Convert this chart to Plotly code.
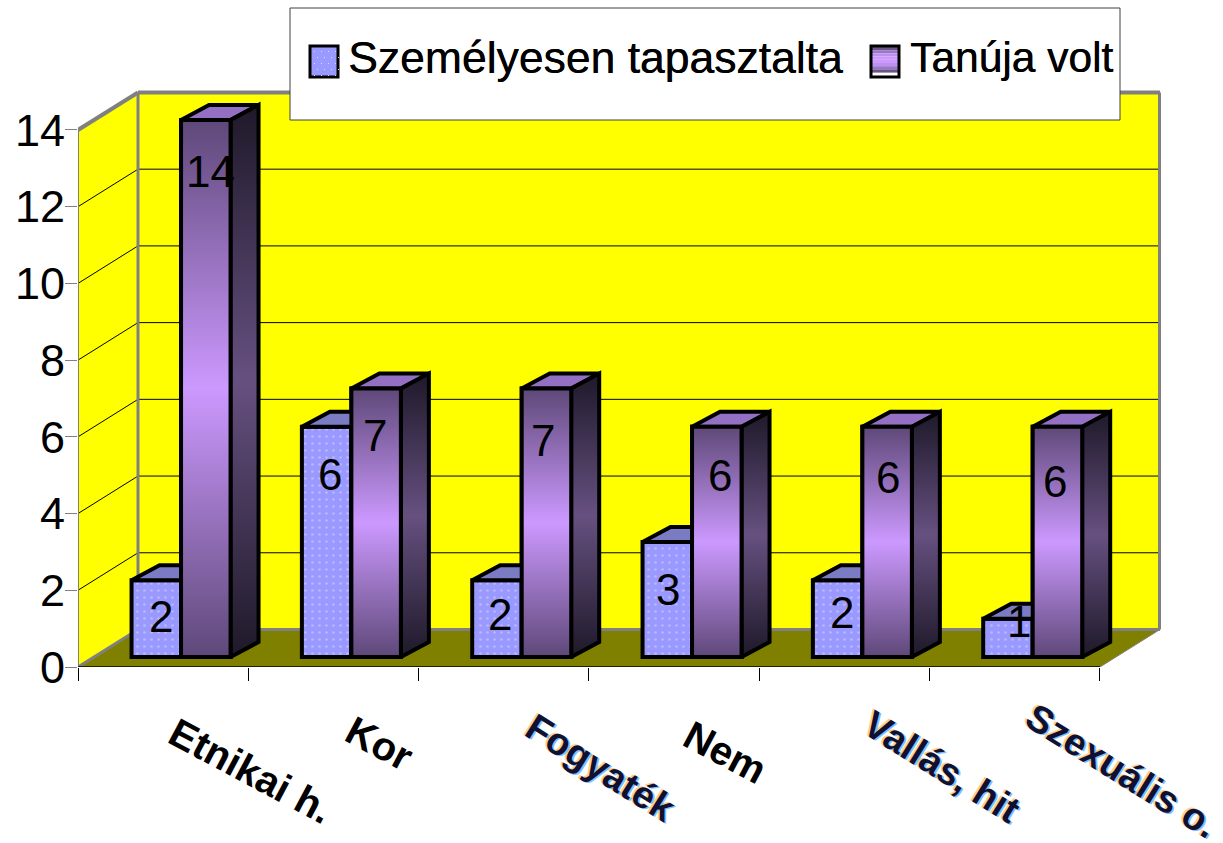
import plotly.graph_objects as go

# ---- data ----
categories = ["Etnikai h.", "Kor", "Fogyaték", "Nem", "Vallás, hit", "Szexuális o."]
series_a_name = "Személyesen tapasztalta"
series_b_name = "Tanúja volt"
series_a = [2, 6, 2, 3, 2, 1]
series_b = [14, 7, 7, 6, 6, 6]
y_ticks = [0, 2, 4, 6, 8, 10, 12, 14]

# ---- layout constants ----
W, H = 1223, 843
X0, Y0 = 78, 667              # pixel of the axes' origin
CAT_PX = 170.33               # pixels per category
UNIT_PX = 38.36               # pixels per y unit
WALL_DX = 60 / CAT_PX         # depth of the chart box, in axis units
WALL_DY = 37.5 / UNIT_PX
BAR_W = 49.5 / CAT_PX
BAR_DX = 28 / CAT_PX          # depth of a bar
BAR_DY = 15 / UNIT_PX
BAR_LIFT = 10 / UNIT_PX       # bars stand inside the floor
GROUP_AT = 0.605
N = len(categories)
YMAX = 14

x_hi = N + WALL_DX
y_hi = YMAX + WALL_DY

BLUE, BLUE_TOP, BLUE_DOT = "#9999FF", "#7B7BC4", "#D6D6FF"
PURPLE_TOP = "#9370C4"
FRONT_SCALE = [[0, "#5E4878"], [0.5, "#CC99FF"], [1, "#5E4878"]]
SIDE_SCALE = [[0, "#1E1929"], [0.5, "#665080"], [1, "#1E1929"]]
GREY = "#808080"
FONT = "Liberation Sans, Arial, sans-serif"
EDGE = 4

# pixel nudges of the value labels (dx, dy from the centre of each front face's top)
label_dy_a = [36, 48, 34, 48, 32, 3]
label_dy_b = [52, 47, 52, 49, 51, 55]
label_dx_a = [5, 3, 3, 1, 4, 11]
label_dx_b = [5, -1, -3, 3, 1, -2]
# pixel centres of the rotated category labels
cat_label_px = [(251, 771), (379, 743), (601, 768), (725, 752), (942, 767), (1122, 771)]
blurred = [False, False, True, False, True, True]


def px(x):
    return x / W


def py(y):
    return 1 - y / H


def poly(xs, ys, **kw):
    return go.Scatter(x=xs + xs[:1], y=ys + ys[:1], mode="lines", fill="toself",
                      line=dict(color="black", width=EDGE), hoverinfo="skip",
                      showlegend=False, **kw)


fig = go.Figure()

# front faces as true bars
pos = [i + GROUP_AT for i in range(N)]
fig.add_bar(x=pos, y=series_a, base=BAR_LIFT, width=BAR_W, offset=-BAR_W, name=series_a_name,
            marker=dict(color=BLUE, line=dict(color="black", width=EDGE),
                        pattern=dict(shape=".", fgcolor=BLUE_DOT, bgcolor=BLUE, size=7, solidity=0.12)),
            hoverinfo="skip")
fig.add_bar(x=pos, y=series_b, base=BAR_LIFT, width=BAR_W, offset=0, name=series_b_name,
            marker=dict(color="#8A6FB0", line=dict(color="black", width=EDGE)), hoverinfo="skip")

# 3-D faces derived from the values
for p, v in zip(pos, series_a):
    l, r, t = p - BAR_W, p, v + BAR_LIFT
    fig.add_trace(poly([l, r, r + BAR_DX, l + BAR_DX], [t, t, t + BAR_DY, t + BAR_DY], fillcolor=BLUE_TOP))
for p, v in zip(pos, series_b):
    l, r, t, b = p, p + BAR_W, v + BAR_LIFT, BAR_LIFT
    fig.add_trace(poly([l, r, r + BAR_DX, l + BAR_DX], [t, t, t + BAR_DY, t + BAR_DY], fillcolor=PURPLE_TOP))
    fig.add_trace(poly([r, r + BAR_DX, r + BAR_DX, r], [b, b + BAR_DY, t + BAR_DY, t],
                       fillgradient=dict(type="vertical", colorscale=SIDE_SCALE)))
    fig.add_trace(poly([l, r, r, l], [b, b, t, t],
                       fillgradient=dict(type="vertical", colorscale=FRONT_SCALE)))

# ---- chart box ----
shapes = []


def path(pts):
    return "M" + " L".join(f"{a},{b}" for a, b in pts) + " Z"


def data_shape(pts, fill, line=None, width=0, layer="below"):
    shapes.append(dict(type="path", xref="x", yref="y", path=path(pts), fillcolor=fill,
                       line=dict(color=line or fill, width=width), layer=layer))


def data_line(x0, y0, x1, y1, color="black", width=1, layer="below"):
    shapes.append(dict(type="line", xref="x", yref="y", x0=x0, y0=y0, x1=x1, y1=y1,
                       line=dict(color=color, width=width), layer=layer))


data_shape([(0, 0), (WALL_DX, WALL_DY), (WALL_DX, y_hi), (0, YMAX)], "#FFFF00")
data_shape([(WALL_DX, WALL_DY), (x_hi, WALL_DY), (x_hi, y_hi), (WALL_DX, y_hi)], "#FFFF00")
data_shape([(0, 0), (WALL_DX, WALL_DY), (x_hi, WALL_DY), (N, 0)], "#808000")
for t in y_ticks[1:-1]:
    data_line(0, t, WALL_DX, t + WALL_DY)
    data_line(WALL_DX, t + WALL_DY, x_hi, t + WALL_DY)
# grey frame
data_line(0, YMAX, WALL_DX, y_hi, GREY, 4)
data_line(WALL_DX, y_hi, x_hi, y_hi, GREY, 4)
data_line(x_hi, WALL_DY, x_hi, y_hi, GREY, 4)
data_line(WALL_DX, WALL_DY, WALL_DX, y_hi, GREY, 3)
data_line(WALL_DX, WALL_DY, x_hi, WALL_DY, GREY, 3)
data_line(0, 0, WALL_DX, WALL_DY, GREY, 3)
data_line(N, 0, x_hi, WALL_DY, GREY, 1)
# axis lines
data_line(0, 0, 0, YMAX, GREY, 2)
data_line(0, 0, N, 0, "black", 1.5)

# ---- hand-made legend box ----
shapes.append(dict(type="rect", xref="paper", yref="paper", x0=px(290), x1=px(1120), y0=py(120), y1=py(8),
                   fillcolor="white", line=dict(color="#404040", width=1), layer="above"))
shapes.append(dict(type="rect", xref="paper", yref="paper", x0=px(310), x1=px(338), y0=py(77), y1=py(46),
                   fillcolor=BLUE, line=dict(color="black", width=3), layer="above"))
for j in range(5):
    for i in range(4):
        sx, sy = 314 + i * 7 + (j % 2) * 3, 51 + j * 6
        shapes.append(dict(type="rect", xref="paper", yref="paper", x0=px(sx), x1=px(sx + 1),
                           y0=py(sy + 1), y1=py(sy), fillcolor=BLUE_DOT, line=dict(width=0), layer="above"))
bands = ["#6A5488", "#9A78C8", "#BE90F0", "#CC99FF", "#CC99FF", "#BE90F0", "#9A78C8", "#6A5488"]
for k, c in enumerate(bands):
    shapes.append(dict(type="rect", xref="paper", yref="paper", x0=px(872), x1=px(899),
                       y0=py(47 + (k + 1) * 3.2), y1=py(47 + k * 3.2), fillcolor=c, line=dict(width=0), layer="above"))
shapes.append(dict(type="rect", xref="paper", yref="paper", x0=px(871), x1=px(899), y0=py(77), y1=py(46),
                   fillcolor="rgba(0,0,0,0)", line=dict(color="black", width=3), layer="above"))

# ---- text ----
ann = []
for name, x, size in ((series_a_name, 346, 44.5), (series_b_name, 908, 42.5)):
    ann.append(dict(text=name, xref="paper", yref="paper", x=px(x), y=py(57), xanchor="left", yanchor="middle",
                    showarrow=False, font=dict(size=size, family=FONT, color="black", shadow="0.4px 0 #000")))
for vals, shift, dxs, dys in ((series_a, -BAR_W / 2, label_dx_a, label_dy_a), (series_b, BAR_W / 2, label_dx_b, label_dy_b)):
    for p, v, dx, dy in zip(pos, vals, dxs, dys):
        ann.append(dict(text=str(v), x=p + shift, y=v + BAR_LIFT, xref="x", yref="y", xshift=dx, yshift=-dy,
                        xanchor="center", yanchor="middle", showarrow=False,
                        font=dict(size=44, family=FONT, color="black")))
for c, (lx, ly), soft in zip(categories, cat_label_px, blurred):
    f = dict(size=40, family=FONT, color="black", weight="bold")
    angle = 28
    if soft:
        f = dict(size=38, family=FONT, color="#101030", weight="bold",
                 shadow="2px 0 #7FBFFF, -2px 0 #FFD08A")
        angle = 32
    ann.append(dict(text=c, xref="paper", yref="paper", x=px(lx), y=py(ly), xanchor="center", yanchor="middle",
                    textangle=angle, showarrow=False, font=f))

fig.update_layout(
    width=W, height=H, margin=dict(l=0, r=0, t=0, b=0), paper_bgcolor="white", plot_bgcolor="white",
    showlegend=False, barmode="overlay", shapes=shapes, annotations=ann,
    xaxis=dict(domain=[px(X0), px(1161)], range=[0, (1161 - X0) / CAT_PX], tickvals=list(range(N + 1)),
               ticktext=[""] * (N + 1), ticks="outside", ticklen=13, tickcolor="black", tickwidth=1,
               showgrid=False, zeroline=False, showline=False, automargin=False),
    yaxis=dict(domain=[py(Y0), py(90)], range=[0, (Y0 - 90) / UNIT_PX], tickvals=y_ticks, ticks="outside",
               ticklen=12, tickcolor=GREY, tickwidth=1, showgrid=False, zeroline=False, showline=False,
               automargin=False, ticklabelstandoff=-9, tickfont=dict(size=45, family=FONT, color="black")),
)

fig.write_html("out.html", config=dict(displayModeBar=False),
               post_script="document.body.style.margin='0';document.body.style.overflow='hidden';")
